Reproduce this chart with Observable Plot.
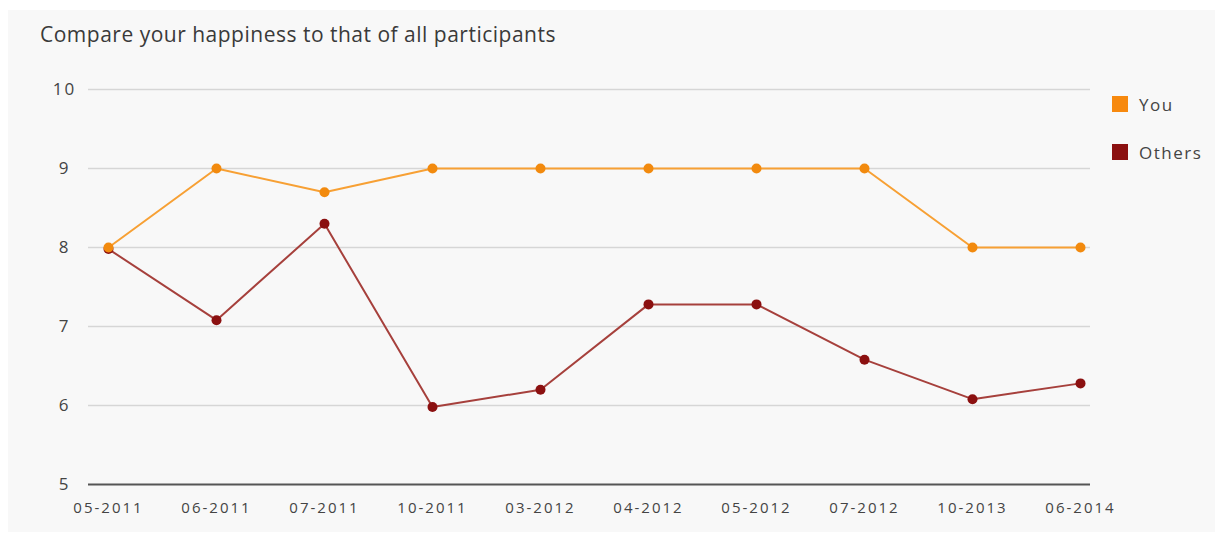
<!DOCTYPE html>
<html>
<head>
<meta charset="utf-8">
<script src="https://cdn.jsdelivr.net/npm/d3@7"></script>
<script src="https://cdn.jsdelivr.net/npm/@observablehq/plot@0.6"></script>
<style>
  html, body { margin: 0; padding: 0; background: #ffffff; }
  #wrap { position: relative; width: 1223px; height: 537px; background: #ffffff; overflow: hidden; }
  #panel { position: absolute; left: 8px; top: 10px; width: 1207px; height: 522px; background: #f8f8f8; }
  #title { position: absolute; left: 40px; top: 20px; font-family: "Open Sans", sans-serif; font-size: 21px; letter-spacing: 0.5px; color: #3a3a3a; }
  #chart { position: absolute; left: 0; top: 60px; }
  #legend { position: absolute; left: 1112px; top: 92px; font-family: "Open Sans", sans-serif; font-size: 17px; letter-spacing: 1.5px; color: #444; }
  .li { display: flex; align-items: center; height: 24px; margin-bottom: 24px; }
  .sw { width: 16px; height: 16px; margin-right: 11px; }
</style>
</head>
<body>
<div id="wrap">
  <div id="panel"></div>
  <div id="title">Compare your happiness to that of all participants</div>
  <div id="chart"></div>
  <div id="legend"></div>
</div>
<script>
const periods = ["05-2011","06-2011","07-2011","10-2011","03-2012","04-2012","05-2012","07-2012","10-2013","06-2014"];
const youValues = [8, 9, 8.7, 9, 9, 9, 9, 9, 8, 8];
const othersValues = [7.98, 7.08, 8.3, 5.98, 6.2, 7.28, 7.28, 6.58, 6.08, 6.28];
const seriesNames = ["You", "Others"];
const yTicks = [5, 6, 7, 8, 9, 10];
const gridTicks = [6, 7, 8, 9, 10];

const lineColors = {You: "#f7a034", Others: "#a6403c"};
const dotColors = {You: "#f28a0e", Others: "#8b1010"};

const data = [];
periods.forEach((p, i) => {
  data.push({period: p, series: "You", value: youValues[i]});
  data.push({period: p, series: "Others", value: othersValues[i]});
});

const chart = Plot.plot({
  width: 1223,
  height: 477,
  marginLeft: 88,
  marginRight: 133,
  marginTop: 29,
  marginBottom: 53,
  style: {background: "transparent", fontFamily: "'Open Sans', sans-serif", letterSpacing: "2px"},
  x: {type: "point", domain: periods, range: [105, 1082], padding: 0, label: null},
  y: {domain: [5, 10], label: null},
  marks: [
    Plot.ruleY(gridTicks, {stroke: "#d6d6d6", strokeWidth: 1.5}),
    Plot.ruleY([5], {stroke: "#555555", strokeWidth: 2}),
    Plot.axisY(yTicks, {tickSize: 0, tickPadding: 24, textAnchor: "middle", fontSize: 17, fill: "#444", label: null, tickFormat: d => String(d)}),
    Plot.axisX(periods, {tickSize: 0, tickPadding: 18, fontSize: 15, fill: "#444", label: null}),
    Plot.line(data.filter(d => d.series === "Others"), {x: "period", y: "value", stroke: lineColors.Others, strokeWidth: 2}),
    Plot.line(data.filter(d => d.series === "You"), {x: "period", y: "value", stroke: lineColors.You, strokeWidth: 2}),
    Plot.dot(data.filter(d => d.series === "Others"), {x: "period", y: "value", r: 5, fill: dotColors.Others}),
    Plot.dot(data.filter(d => d.series === "You"), {x: "period", y: "value", r: 5, fill: dotColors.You})
  ]
});
document.getElementById("chart").appendChild(chart);

const legend = document.getElementById("legend");
seriesNames.forEach(name => {
  const row = document.createElement("div");
  row.className = "li";
  const sw = document.createElement("div");
  sw.className = "sw";
  sw.style.background = name === "You" ? "#f7890e" : "#8b1010";
  const t = document.createElement("span");
  t.textContent = name;
  row.appendChild(sw);
  row.appendChild(t);
  legend.appendChild(row);
});
</script>
</body>
</html>
